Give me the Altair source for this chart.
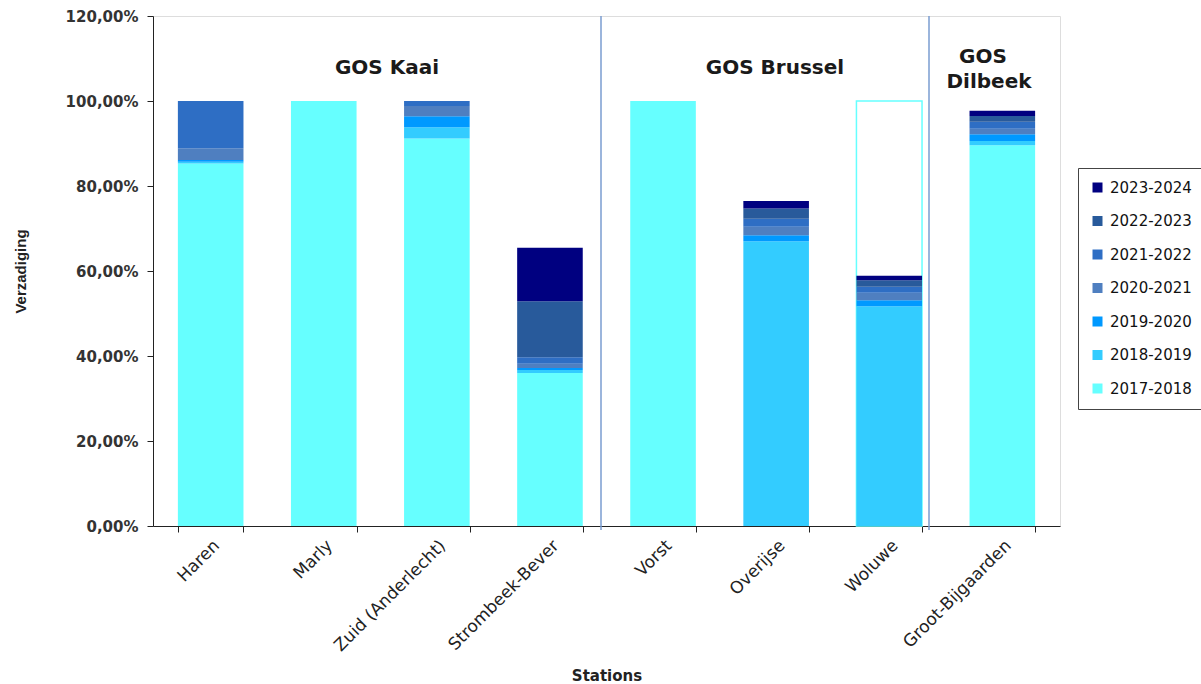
import altair as alt
import pandas as pd

# Stations in axis order and the seasons stacked in each bar (bottom to top)
stations = ["Haren", "Marly", "Zuid (Anderlecht)", "Strombeek-Bever",
            "Vorst", "Overijse", "Woluwe", "Groot-Bijgaarden"]
seasons = ["2017-2018", "2018-2019", "2019-2020", "2020-2021",
           "2021-2022", "2022-2023", "2023-2024"]

# Saturation share (%) added per season, one value per station
s2017 = [85.3, 100.0, 91.2, 36.0, 100.0, 0.0, 0.0, 89.6]
s2018 = [0.4, 0.0, 2.6, 0.7, 0.0, 67.0, 51.7, 1.0]
s2019 = [0.4, 0.0, 2.6, 0.5, 0.0, 1.4, 1.4, 1.6]
s2020 = [2.8, 0.0, 2.4, 1.0, 0.0, 2.0, 1.8, 1.3]
s2021 = [11.1, 0.0, 1.2, 1.5, 0.0, 1.9, 1.4, 1.6]
s2022 = [0.0, 0.0, 0.0, 13.2, 0.0, 2.4, 1.5, 1.4]
s2023 = [0.0, 0.0, 0.0, 12.6, 0.0, 1.8, 1.1, 1.2]
season_values = [s2017, s2018, s2019, s2020, s2021, s2022, s2023]

# Woluwe is also drawn as an empty 100 % bar behind its stack
outline_stations = ["Woluwe"]
outline_values = [100.0]

season_colors = ["#66FFFF", "#33CCFF", "#0099FF", "#4F7FC0",
                 "#2E6EC4", "#285A9B", "#000080"]

rows = []
for i, (season, vals) in enumerate(zip(seasons, season_values)):
    for st, v in zip(stations, vals):
        rows.append({"station": st, "season": season, "order": i, "value": v / 100})
df = pd.DataFrame(rows)

outline_df = pd.DataFrame({"station": outline_stations,
                           "value": [v / 100 for v in outline_values]})

FONT = "DejaVu Sans"
NARROW = "Liberation Sans"

x_enc = alt.X("station:N", sort=stations, title="Stations",
              scale=alt.Scale(paddingInner=0.42, paddingOuter=0.22),
              axis=alt.Axis(labelAngle=-45, labelFontSize=17, labelColor="#222",
                            labelFont=FONT, titleFont=FONT, titleFontSize=15,
                            titleFontWeight="bold", titleColor="#222",
                            titleY=149, titleBaseline="middle",
                            tickBand="extent", tickSize=6,
                            domainColor="#222", tickColor="#222", labelPadding=5))

y_scale = alt.Scale(domain=[0, 1.2])

outline = alt.Chart(outline_df).mark_bar(
    fill="white", stroke="#66FFFF", strokeWidth=1.5
).encode(
    x=x_enc,
    y=alt.Y("value:Q", scale=y_scale),
)

bars = alt.Chart(df).mark_bar().encode(
    x=x_enc,
    y=alt.Y("value:Q", stack="zero", scale=y_scale, title="Verzadiging",
            axis=alt.Axis(values=[0, 0.2, 0.4, 0.6, 0.8, 1.0, 1.2],
                          labelExpr="replace(format(datum.value * 100, '.2f'), '.', ',') + '%'",
                          labelFontSize=15, labelFontWeight="bold", labelColor="#333",
                          labelFont=FONT, titleFont=NARROW, titleFontSize=15,
                          titleFontWeight="bold", titleColor="#222",
                          titleX=-133, titleBaseline="middle",
                          grid=False, tickSize=6,
                          domainColor="#222", tickColor="#222", labelPadding=9)),
    color=alt.Color("season:N", title=None,
                    scale=alt.Scale(domain=seasons[::-1], range=season_colors[::-1]),
                    legend=alt.Legend(orient="none", legendX=925, legendY=152,
                                      symbolType="square", symbolSize=100,
                                      symbolStrokeWidth=0, labelFont=FONT,
                                      labelFontSize=15, labelColor="#111",
                                      rowPadding=17.5, padding=12,
                                      strokeColor="#444", fillColor="white",
                                      labelOffset=5)),
    order=alt.Order("order:Q", sort="ascending"),
)

# Thin dividers between the three GOS groups
sep1 = alt.Chart(pd.DataFrame({"k": [0]})).mark_rule(
    color="#7A9CD0", strokeWidth=1.5
).encode(x=alt.value(448), y=alt.value(0), y2=alt.value(514))
sep2 = alt.Chart(pd.DataFrame({"k": [0]})).mark_rule(
    color="#7A9CD0", strokeWidth=1.5
).encode(x=alt.value(776), y=alt.value(0), y2=alt.value(514))


def group_label(text, px, py):
    return alt.Chart(pd.DataFrame({"t": [text]})).mark_text(
        font=FONT, fontSize=20, fontWeight="bold", color="#1a1a1a",
        baseline="middle", align="center"
    ).encode(text="t:N", x=alt.value(px), y=alt.value(py))


labels = (group_label("GOS Kaai", 234, 52)
          + group_label("GOS Brussel", 622, 52)
          + group_label("GOS", 830, 41)
          + group_label("Dilbeek", 836, 66))

chart = alt.layer(outline, bars, sep1, sep2, labels).properties(
    width=907, height=510,
    autosize=alt.AutoSizeParams(type="none"),
    padding={"left": 153, "top": 16, "right": 141, "bottom": 158},
).configure_view(stroke="#888", strokeWidth=1.5).configure(background="white")

chart.save("out.html", embed_options={"renderer": "svg", "actions": False})
